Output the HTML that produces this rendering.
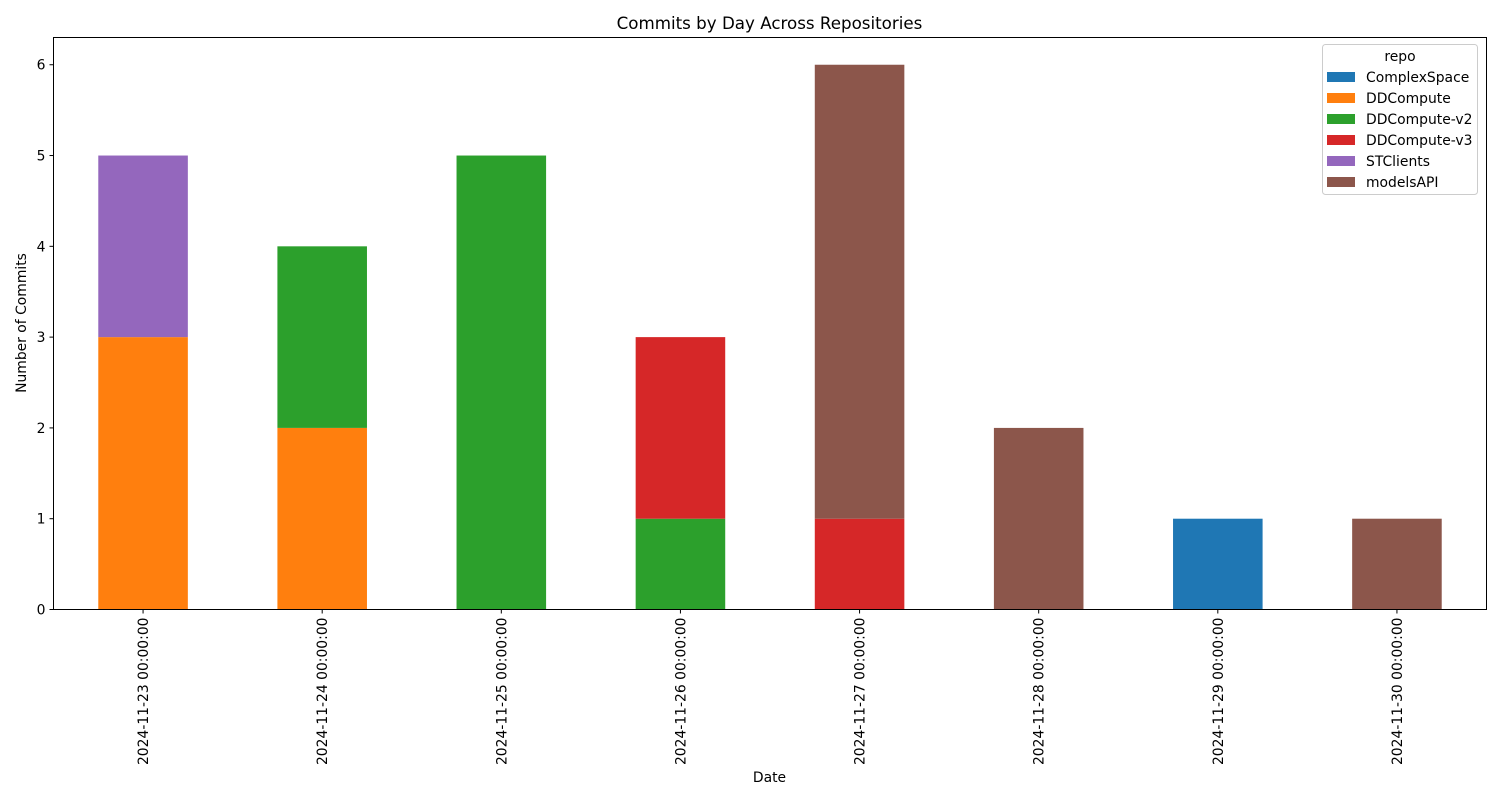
<!DOCTYPE html>
<html><head><meta charset="utf-8"><style>
body{margin:0;background:#fff;}
svg text{font-family:"DejaVu Sans","Liberation Sans",sans-serif;fill:#000;}
</style></head><body>
<svg id="chart" width="1500" height="800" xmlns="http://www.w3.org/2000/svg">
<rect width="1500" height="800" fill="#fff"/>
<text x="769.5" y="29" font-size="16.7" text-anchor="middle">Commits by Day Across Repositories</text>
<g id="bars"></g>
<g id="xticks"></g>
<g id="yticks"></g>
<rect x="53.5" y="37.5" width="1433" height="572" fill="none" stroke="#000" stroke-width="1"/>
<text x="769.5" y="782" font-size="13.9" text-anchor="middle">Date</text>
<text transform="translate(26,323) rotate(-90)" font-size="13.9" text-anchor="middle">Number of Commits</text>
<g id="legend"></g>
</svg>
<script>
const categories=["2024-11-23 00:00:00","2024-11-24 00:00:00","2024-11-25 00:00:00","2024-11-26 00:00:00","2024-11-27 00:00:00","2024-11-28 00:00:00","2024-11-29 00:00:00","2024-11-30 00:00:00"];
const seriesNames=["ComplexSpace","DDCompute","DDCompute-v2","DDCompute-v3","STClients","modelsAPI"];
const seriesColors=["#1f77b4","#ff7f0e","#2ca02c","#d62728","#9467bd","#8c564b"];
const complexSpace=[0,0,0,0,0,0,1,0];
const ddCompute=[3,2,0,0,0,0,0,0];
const ddComputeV2=[0,2,5,1,0,0,0,0];
const ddComputeV3=[0,0,0,2,1,0,0,0];
const stClients=[2,0,0,0,0,0,0,0];
const modelsAPI=[0,0,0,0,5,2,0,1];
const yTicks=[0,1,2,3,4,5,6];
const series=[complexSpace,ddCompute,ddComputeV2,ddComputeV3,stClients,modelsAPI];
const NS="http://www.w3.org/2000/svg";
const L=53.5,R=1486.5,T=37.5,B=609.5,yMax=6.3;
const step=(R-L)/categories.length;
const xc=i=>L+step*(i+0.5);
const y=v=>B-(B-T)*v/yMax;
function mk(t,a,p){const e=document.createElementNS(NS,t);for(const k in a)e.setAttribute(k,a[k]);p.appendChild(e);return e;}
const bars=document.getElementById('bars');
categories.forEach((c,i)=>{let base=0;series.forEach((s,j)=>{const v=s[i];if(v>0){const r=mk('rect',{x:xc(i)-step*0.25,y:y(base+v),width:step*0.5,height:y(base)-y(base+v),fill:seriesColors[j]},bars);

}base+=v;});});
const xt=document.getElementById('xticks');
categories.forEach((c,i)=>{const x=xc(i);mk('line',{x1:x,x2:x,y1:B,y2:B+4,stroke:'#000'},xt);
const t=mk('text',{transform:`translate(${x+5},${B+8}) rotate(-90)`,'font-size':13.9,'text-anchor':'end'},xt);t.textContent=c;

});
const yt=document.getElementById('yticks');
yTicks.forEach(v=>{const yy=y(v);mk('line',{x1:L-4,x2:L,y1:yy,y2:yy,stroke:'#000'},yt);
const t=mk('text',{x:L-8,y:yy+5,'font-size':13.9,'text-anchor':'end'},yt);t.textContent=v;

});
const lg=document.getElementById('legend');
mk('rect',{x:1322.5,y:44.5,width:155,height:150,rx:3,fill:'#fff','fill-opacity':0.8,stroke:'#ccc'},lg);
const tt=mk('text',{x:1400,y:61,'font-size':13.9,'text-anchor':'middle'},lg);tt.textContent='repo';
seriesNames.forEach((n,j)=>{const yy=77+21*j;
const p=mk('rect',{x:1327,y:yy-5,width:28,height:10,fill:seriesColors[j]},lg);


const t=mk('text',{x:1366,y:yy+5,'font-size':13.9},lg);t.textContent=n;

});
</script>
</body></html>
